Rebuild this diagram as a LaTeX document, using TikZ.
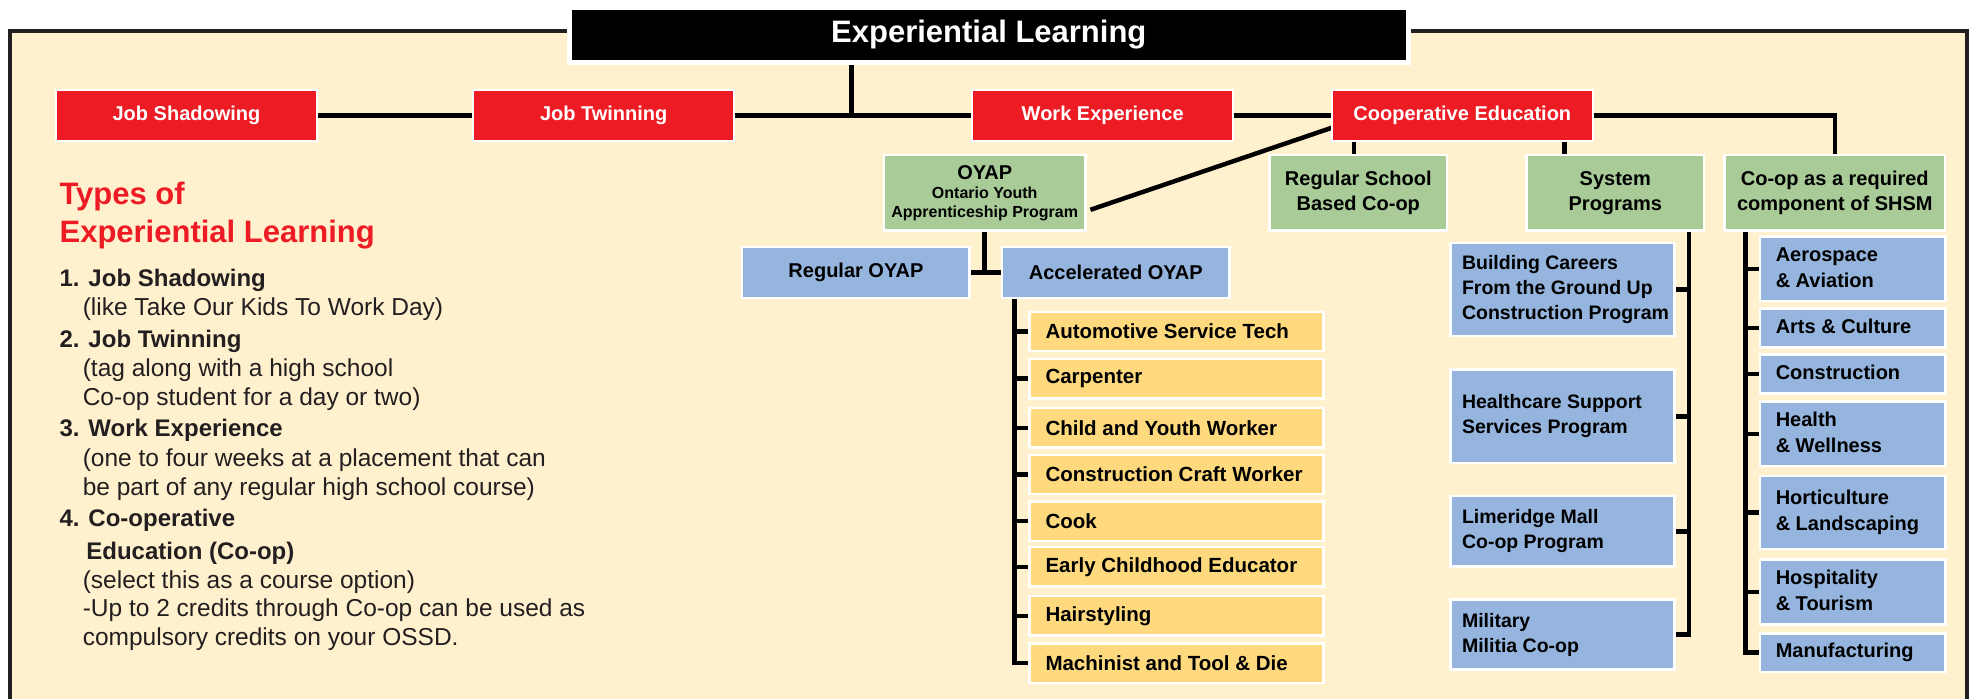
\documentclass[tikz,border=0pt]{standalone}
\usepackage{fontspec}
\setmainfont{Liberation Sans}
\usetikzlibrary{backgrounds}
\definecolor{cream}{RGB}{255,240,206}
\definecolor{elred}{RGB}{237,28,36}
\definecolor{elgreen}{RGB}{168,203,152}
\definecolor{elblue}{RGB}{149,181,222}
\definecolor{elyellow}{RGB}{254,217,125}
\definecolor{framegray}{RGB}{35,31,32}
\newcommand\fs[2]{\fontsize{#1}{#2}\selectfont}
\newcommand\LBx[2]{\makebox[#1][l]{\begin{tabular}{@{}l@{}}#2\end{tabular}}}
\newcommand\yl[1]{\makebox[262pt][l]{#1}}
\newcommand\lh[1]{{\bfseries\fs{24}{28}#1}}
\tikzset{
  elbox/.style={draw=white, line width=2.5pt, inner sep=0pt, outer sep=0pt, text=black, font=\bfseries\fs{20}{25}},
  redbox/.style={elbox, fill=elred, text=white, minimum height=51pt, minimum width=261pt},
  greenbox/.style={elbox, fill=elgreen, align=center, minimum height=75.7pt},
  bluebox/.style={elbox, fill=elblue},
  sysbox/.style={bluebox, minimum width=223.8pt, font=\bfseries\fs{19.5}{25}},
  shbox/.style={bluebox, minimum width=185.1pt, font=\bfseries\fs{20}{26}},
  yellowbox/.style={elbox, fill=elyellow, minimum width=293.8pt, minimum height=39.4pt, font=\bfseries\fs{20.5}{25}},
  link/.style={draw=black, line width=4.5pt},
  listtxt/.style={anchor=base west, inner sep=0pt, text=framegray, font=\fs{24.5}{28}},
  headtxt/.style={anchor=base west, inner sep=0pt, text=elred, font=\bfseries\fs{31}{31}},
}
\begin{document}
\begin{tikzpicture}[x=1pt,y=-1pt]
\useasboundingbox (0,0) rectangle (1971,699);
\begin{pgfonlayer}{background}
\fill[white] (0,0) rectangle (1971,699);
\fill[cream] (9.5,31) rectangle (1966.7,699);
\draw[framegray, line width=4pt] (9.5,699) -- (9.5,31) -- (1966.7,31) -- (1966.7,699);
\end{pgfonlayer}

% title
\node[elbox, fill=black, text=white, line width=5pt, minimum width=839.2pt, minimum height=55pt, font=\bfseries\fs{31}{31}] (title) at (988.8,35) {Experiential Learning};

% red row
\node[redbox] (js) at (186.5,115.25) {Job Shadowing};
\node[redbox] (jt) at (603.7,115.25) {Job Twinning};
\node[redbox] (we) at (1102.7,115.25) {Work Experience};
\node[redbox] (coop) at (1462.3,115.25) {Cooperative Education};

% green row
\node[greenbox, minimum width=201.3pt, font=\bfseries\fs{16}{19}] (oyap) at (984.7,192.8) {{\fs{20}{19}OYAP}\\Ontario Youth\\Apprenticeship Program};
\node[greenbox, minimum width=177.7pt] (rsb) at (1358.3,192.8) {Regular School\\Based Co-op};
\node[greenbox, minimum width=177.5pt] (sysp) at (1615.3,192.8) {System\\Programs};
\node[greenbox, minimum width=220.4pt] (shsm) at (1834.8,192.8) {Co-op as a required\\component of SHSM};

% OYAP children
\node[bluebox, minimum width=227.5pt, minimum height=50.8pt] (roy) at (855.9,272.6) {Regular OYAP};
\node[bluebox, minimum width=227.3pt, minimum height=50.8pt] (aoy) at (1115.8,272.6) {Accelerated OYAP};

% trades
\node[yellowbox] (y1) at (1176.5,331.5) {\yl{Automotive Service Tech}};
\node[yellowbox] (y2) at (1176.5,378.7) {\yl{Carpenter}};
\node[yellowbox] (y3) at (1176.5,427.8) {\yl{Child and Youth Worker}};
\node[yellowbox] (y4) at (1176.5,474.5) {\yl{Construction Craft Worker}};
\node[yellowbox] (y5) at (1176.5,521.2) {\yl{Cook}};
\node[yellowbox] (y6) at (1176.5,566.8) {\yl{Early Childhood Educator}};
\node[yellowbox] (y7) at (1176.5,615.8) {\yl{Hairstyling}};
\node[yellowbox] (y8) at (1176.5,663.2) {\yl{Machinist and Tool \& Die}};

% system programs
\node[sysbox, minimum height=93.4pt] (bc) at (1562.5,289.5) {\LBx{201pt}{Building Careers\\From the Ground Up\\Construction Program}};
\node[sysbox, minimum height=93.5pt] (hc) at (1562.5,416.3) {\LBx{201pt}{Healthcare Support\\Services Program}};
\node[sysbox, minimum height=70.2pt] (lm) at (1562.5,531.3) {\LBx{201pt}{Limeridge Mall\\Co-op Program}};
\node[sysbox, minimum height=70pt] (mil) at (1562.5,634.7) {\LBx{201pt}{Military\\Militia Co-op}};

% SHSM sectors
\node[shbox, minimum height=64.5pt] (s1) at (1852.7,268.9) {\LBx{153.9pt}{Aerospace\\\& Aviation}};
\node[shbox, minimum height=38.8pt] (s2) at (1852.7,327.9) {\LBx{153.9pt}{Arts \& Culture}};
\node[shbox, minimum height=39pt] (s3) at (1852.7,374) {\LBx{153.9pt}{Construction}};
\node[shbox, minimum height=64.5pt] (s4) at (1852.7,433.9) {\LBx{153.9pt}{Health\\\& Wellness}};
\node[shbox, minimum height=73pt] (s5) at (1852.7,512.7) {\LBx{153.9pt}{Horticulture\\\& Landscaping}};
\node[shbox, minimum height=65pt] (s6) at (1852.7,592) {\LBx{153.9pt}{Hospitality\\\& Tourism}};
\node[shbox, minimum height=38.6pt] (s7) at (1852.7,652.6) {\LBx{153.9pt}{Manufacturing}};

% left text
\node[headtxt] (h1) at (59.4,204) {Types of};
\node[headtxt] (h2) at (59.4,242.7) {Experiential Learning};
\node[listtxt] (l1) at (59.4,286.7) {\lh{1. Job Shadowing}};
\node[listtxt] (l2) at (82.6,315) {(like Take Our Kids To Work Day)};
\node[listtxt] (l3) at (59.4,347.7) {\lh{2. Job Twinning}};
\node[listtxt] (l4) at (82.6,376) {(tag along with a high school};
\node[listtxt] (l5) at (82.6,405) {Co-op student for a day or two)};
\node[listtxt] (l6) at (59.4,436.7) {\lh{3. Work Experience}};
\node[listtxt] (l7) at (82.6,466) {(one to four weeks at a placement that can};
\node[listtxt] (l8) at (82.6,495) {be part of any regular high school course)};
\node[listtxt] (l9) at (59.4,526.7) {\lh{4. Co-operative}};
\node[listtxt] (l10) at (86.2,559.3) {\lh{Education (Co-op)}};
\node[listtxt] (l11) at (82.6,588.3) {(select this as a course option)};
\node[listtxt] (l12) at (82.6,616.7) {-Up to 2 credits through Co-op can be used as};
\node[listtxt] (l13) at (82.6,645) {compulsory credits on your OSSD.};

% helper coordinates
\coordinate (tj) at (851.3,114.5);
\coordinate (rx) at (1354,0);
\coordinate (sx) at (1564.7,0);
\coordinate (ax) at (1014.5,0);
\coordinate (px) at (1689,0);
\coordinate (hx) at (1745.5,0);

% connectors
\begin{pgfonlayer}{background}
\draw[link] (js.east) -- (jt.west);
\draw[link] (jt.east) -- (we.west);
\draw[link] (we.east) -- (coop.west);
\draw[link] (title.south -| tj) -- (tj);
\draw[link] (coop.east) -| (shsm.north);
\draw[link] (coop.south -| rx) -- (rsb.north -| rx);
\draw[link] (coop.south -| sx) -- (sysp.north -| sx);
\draw[link] ([yshift=13pt]coop.south west) -- ([xshift=5pt,yshift=-17pt]oyap.east);
\draw[link] (oyap.south) -- (oyap.south |- roy.east);
\draw[link] (roy.east) -- (aoy.west);
\draw[link] (aoy.south -| ax) |- (y8.west);
\foreach \n in {y1,y2,y3,y4,y5,y6,y7} \draw[link] (\n.west -| ax) -- (\n.west);
\draw[link] (sysp.south -| px) |- (mil.east);
\foreach \n in {bc,hc,lm} \draw[link] (\n.east -| px) -- (\n.east);
\draw[link] (shsm.south -| hx) |- (s7.west);
\foreach \n in {s1,s2,s3,s4,s5,s6} \draw[link] (\n.west -| hx) -- (\n.west);
\end{pgfonlayer}
\end{tikzpicture}
\end{document}
